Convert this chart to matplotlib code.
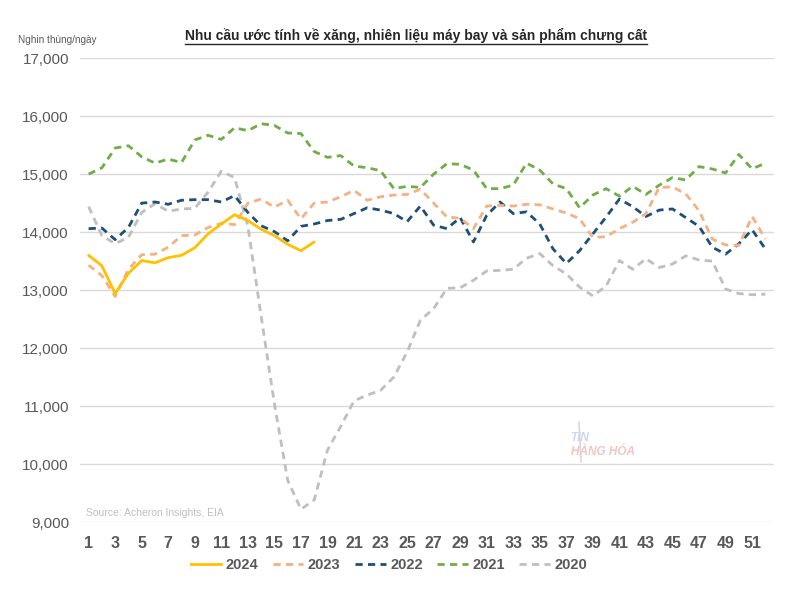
# Weekly demand chart: gasoline, jet fuel and distillates (thousand barrels/day)
import matplotlib
matplotlib.use("Agg")
import matplotlib.pyplot as plt
from matplotlib.lines import Line2D

plt.rcParams['font.family'] = ['Liberation Sans', 'DejaVu Sans']

weeks = list(range(1, 53))

y2024 = [13600, 13420, 12940, 13290, 13510, 13470, 13560, 13600, 13730, 13970,
         14140, 14300, 14200, 14050, 13940, 13790, 13680, 13830]

y2023 = [13430, 13250, 12890, 13360, 13610, 13620, 13740, 13940, 13950, 14080,
         14150, 14130, 14500, 14570, 14430, 14550, 14230, 14500, 14520, 14610,
         14720, 14550, 14610, 14640, 14650, 14740, 14500, 14260, 14240, 14060,
         14450, 14460, 14450, 14480, 14470, 14400, 14330, 14230, 13910, 13920,
         14060, 14170, 14320, 14770, 14780, 14660, 14370, 13880, 13780, 13770,
         14270, 13880]

y2022 = [14060, 14070, 13870, 14080, 14500, 14520, 14480, 14550, 14560, 14560,
         14520, 14630, 14340, 14110, 14010, 13850, 14100, 14140, 14200, 14220,
         14320, 14420, 14380, 14320, 14180, 14450, 14120, 14060, 14250, 13830,
         14290, 14520, 14320, 14350, 14140, 13710, 13460, 13680, 13970, 14260,
         14570, 14440, 14270, 14380, 14400, 14250, 14100, 13740, 13620, 13800,
         14040, 13710]

y2021 = [15000, 15110, 15450, 15490, 15300, 15190, 15260, 15200, 15590, 15670,
         15600, 15800, 15750, 15870, 15840, 15710, 15700, 15390, 15290, 15320,
         15140, 15110, 15060, 14750, 14790, 14770, 15000, 15180, 15170, 15070,
         14750, 14750, 14810, 15190, 15070, 14830, 14750, 14420, 14640, 14750,
         14620, 14790, 14650, 14810, 14940, 14900, 15130, 15090, 15020, 15340,
         15090, 15190]

y2020 = [14440, 13940, 13800, 13910, 14340, 14490, 14360, 14400, 14410, 14690,
         15050, 14940, 14100, 12550, 11040, 9720, 9220, 9380, 10240, 10650,
         11090, 11190, 11270, 11500, 11930, 12480, 12680, 13030, 13040, 13170,
         13330, 13340, 13360, 13550, 13630, 13420, 13280, 13050, 12900, 13070,
         13510, 13360, 13540, 13390, 13450, 13590, 13520, 13500, 13020, 12940,
         12920, 12930]

dash = (0, (2.6, 1.9))
series = [
    ("2024", y2024, "#FFC000", "-"),
    ("2023", y2023, "#F4B183", dash),
    ("2022", y2022, "#1F4E79", dash),
    ("2021", y2021, "#70AD47", dash),
    ("2020", y2020, "#BFBFBF", dash),
]

yticks = [9000, 10000, 11000, 12000, 13000, 14000, 15000, 16000, 17000]
grey = "#595959"

fig = plt.figure(figsize=(8, 6), dpi=100)
ax = fig.add_axes([0.1, 0.13, 0.8675, 0.773])

# draw oldest first so 2024 ends up on top
for i, (name, vals, col, ls) in enumerate(reversed(series)):
    ax.plot(weeks[:len(vals)], vals, color=col, linestyle=ls, linewidth=2.0,
            zorder=2 + i, solid_capstyle='round')

ax.set_xlim(0.35, 52.65)
ax.set_ylim(9000, 17000)
ax.set_yticks(yticks)
ax.set_yticklabels([f"{v:,}" for v in yticks], fontsize=11, color=grey)
ax.set_xticks(weeks[::2])
ax.set_xticklabels([str(w) for w in weeks[::2]], fontsize=11.5, color=grey,
                   fontweight='bold')
ax.tick_params(length=0, pad=10)
ax.tick_params(axis='y', pad=8)
ax.grid(axis='y', color='#D9D9D9', linewidth=1.0, zorder=0)
ax.set_axisbelow(True)
for s in ax.spines.values():
    s.set_visible(False)

ax.text(0.008, 0.012, "Source: Acheron Insights, EIA", transform=ax.transAxes,
        fontsize=7.5, color="#BFBFBF")

# faint watermark
ax.text(0.707, 0.175, "TIN", transform=ax.transAxes, fontsize=8.5,
        color="#C9D9EA", fontstyle='italic', fontweight='bold')
ax.text(0.708, 0.145, "HÀNG HÓA", transform=ax.transAxes, fontsize=8.5,
        color="#F2C4C4", fontstyle='italic', fontweight='bold')
ax.plot([0.722, 0.719], [0.13, 0.215], transform=ax.transAxes,
        color="#E8D0D8", linewidth=1.2, zorder=1)

fig.text(0.022, 0.928, "Nghin thùng/ngày", fontsize=7.2, color=grey)

title = fig.text(0.52, 0.933, "Nhu cầu ước tính về xăng, nhiên liệu máy bay và sản phẩm chưng cất",
                 ha='center', fontsize=10, fontweight='bold', color="#262626")
fig.canvas.draw()
bb = title.get_window_extent().transformed(fig.transFigure.inverted())
fig.add_artist(Line2D([bb.x0, bb.x1], [bb.y0 - 0.002, bb.y0 - 0.002],
                      transform=fig.transFigure, color="#262626", linewidth=1.0))

handles = [Line2D([], [], color=col, linestyle=ls, linewidth=2.0)
           for name, vals, col, ls in series]
leg = fig.legend(handles, [s[0] for s in series], loc='center',
                 bbox_to_anchor=(0.486, 0.058), ncol=5, frameon=False,
                 handlelength=2.1, columnspacing=1.0, handletextpad=0.3,
                 prop={'size': 10.5, 'weight': 'bold'})
for t in leg.get_texts():
    t.set_color(grey)

fig.savefig("out.png", dpi=100, facecolor='white')
